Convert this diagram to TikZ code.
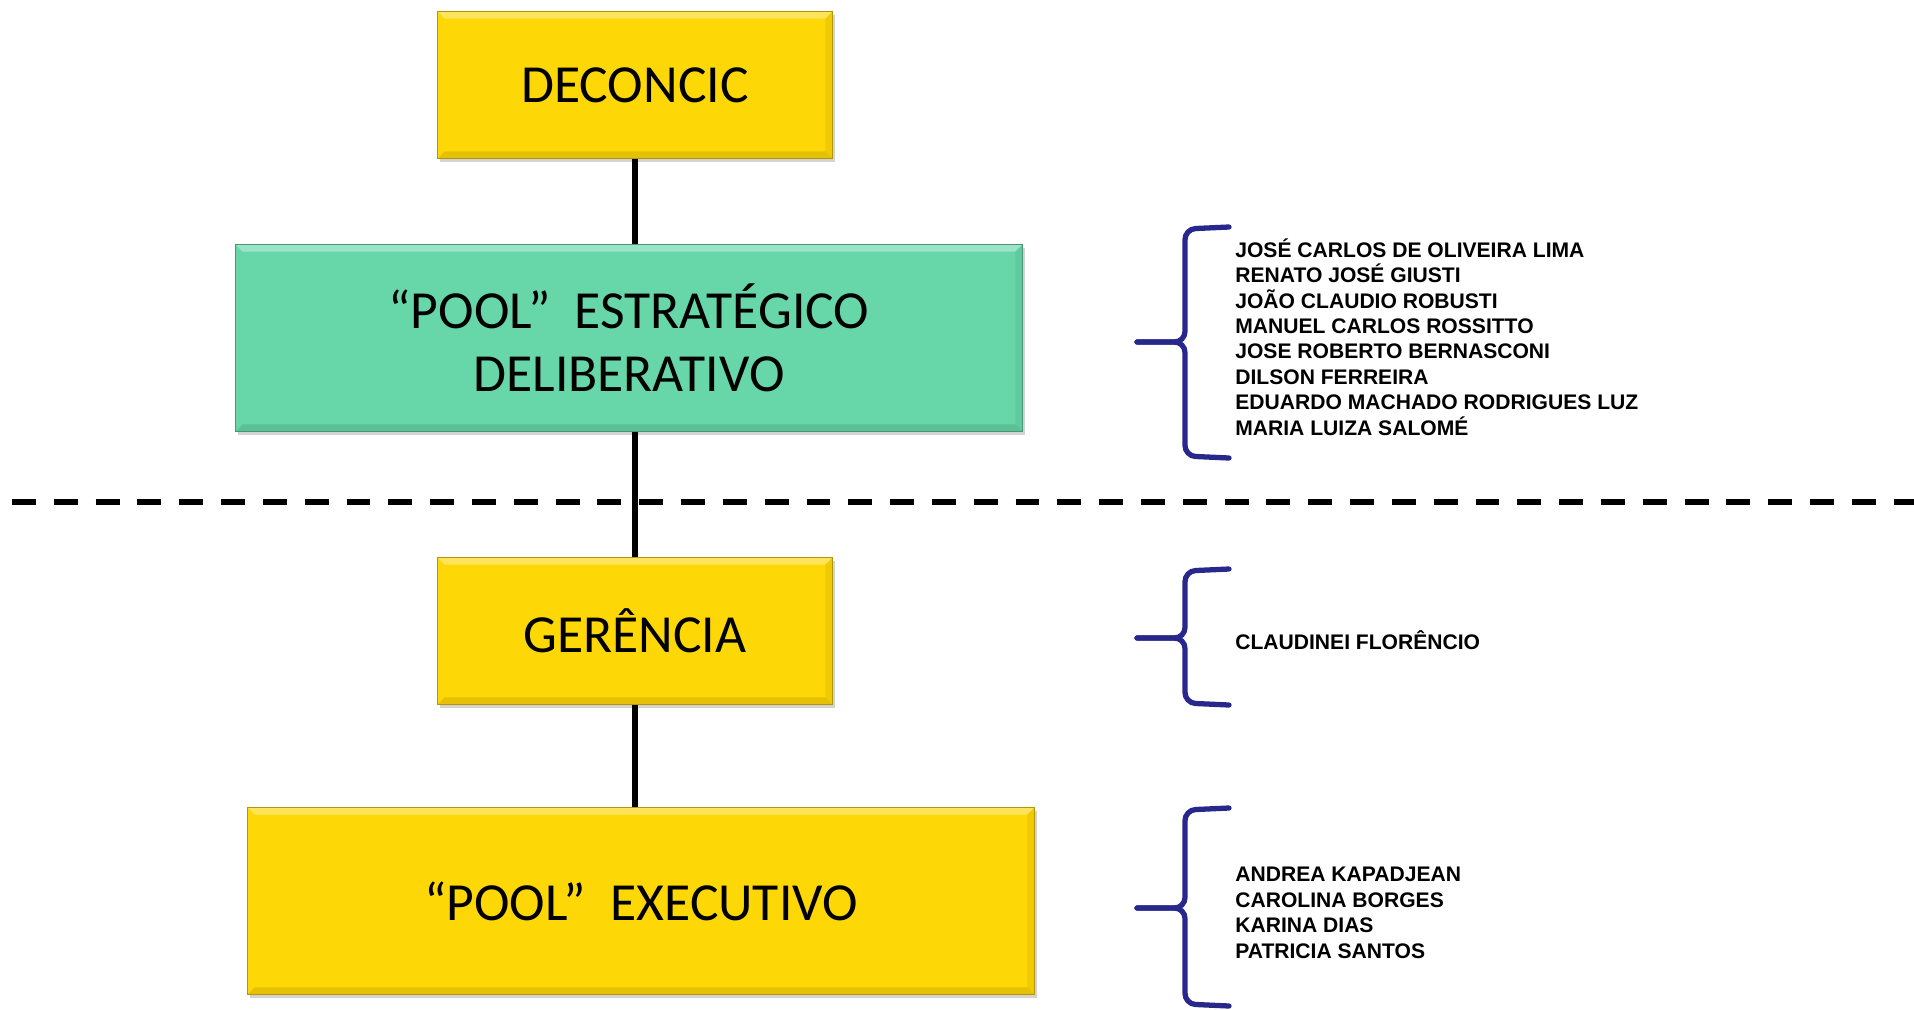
\documentclass[tikz,border=0pt]{standalone}
\usepackage{fontspec}
\setmainfont{Carlito}
\newfontfamily\namefont{Liberation Sans}
\usetikzlibrary{shadows}
\definecolor{boxyellow}{RGB}{254,215,6}
\definecolor{boxgreen}{RGB}{103,214,169}
\definecolor{bracecol}{RGB}{40,40,140}
\newcommand\bx{1185}

\begin{document}
\begin{tikzpicture}[x=0.02cm, y=-0.02cm,
  box/.style={rectangle, draw=#1!70!black, line width=0.8pt, fill=#1,
    minimum width=7.9cm, minimum height=2.94cm, align=center,
    font=\fontsize{30.5}{36}\selectfont,
    drop shadow={shadow xshift=1.2pt, shadow yshift=-2pt, opacity=0.35},
    path picture={
      \fill [white, opacity=0.35] (path picture bounding box.north west) -- (path picture bounding box.north east)
        -- ([xshift=-4pt, yshift=-4pt]path picture bounding box.north east) -- ([xshift=4pt, yshift=-4pt]path picture bounding box.north west) -- cycle;
      \fill [black, opacity=0.10] (path picture bounding box.south west) -- (path picture bounding box.south east)
        -- ([xshift=-4pt, yshift=4pt]path picture bounding box.south east) -- ([xshift=4pt, yshift=4pt]path picture bounding box.south west) -- cycle;
      \fill [black, opacity=0.06] (path picture bounding box.north east) -- (path picture bounding box.south east)
        -- ([xshift=-4pt, yshift=4pt]path picture bounding box.south east) -- ([xshift=-4pt, yshift=-4pt]path picture bounding box.north east) -- cycle;
    }},
  wide/.style={minimum width=15.74cm, minimum height=3.74cm},
  names/.style={anchor=west, align=left, inner sep=0pt,
    font=\namefont\bfseries\fontsize{12}{14.5}\selectfont},
  curly/.style={draw=bracecol, line width=3pt, rounded corners=6pt, line cap=round},
  link/.style={line width=3pt}]
\useasboundingbox (0,0) rectangle (1914,1009);

\node at (635, 85) [box=boxyellow] (deconcic) {DECONCIC};
\node at (629, 338) [box=boxgreen, wide] (poolest) {“POOL”\ \ ESTRATÉGICO\\DELIBERATIVO};
\node at (635, 631) [box=boxyellow] (gerencia) {GERÊNCIA};
\node at (641, 901) [box=boxyellow, wide] (poolexec) {“POOL”\ \ EXECUTIVO};

    %dashed separation line
    \draw [line width=3.4pt, dash pattern=on 13.6pt off 10.2pt] (12, 502) -- (1914, 502);

    %vertical links
    \draw [link] (deconcic.south) -- (deconcic.south |- poolest.north);
    \draw [link] (gerencia.north |- poolest.south) -- (gerencia.north);
    \draw [link] (gerencia.south) -- (gerencia.south |- poolexec.north);

    %braces with members
    \draw [curly] (1229, 227) -- (\bx, 229) -- (\bx, 342) -- (1137, 342);
    \draw [curly] (1137, 342) -- (\bx, 342) -- (\bx, 456) -- (1229, 458);
    \node at (1235, 337) [names] (members1) {JOSÉ CARLOS DE OLIVEIRA LIMA\\RENATO JOSÉ GIUSTI\\JOÃO CLAUDIO ROBUSTI\\MANUEL CARLOS ROSSITTO\\JOSE ROBERTO BERNASCONI\\DILSON FERREIRA\\EDUARDO MACHADO RODRIGUES LUZ\\MARIA LUIZA SALOMÉ};

    \draw [curly] (1229, 569) -- (\bx, 571) -- (\bx, 638) -- (1137, 638);
    \draw [curly] (1137, 638) -- (\bx, 638) -- (\bx, 703) -- (1229, 705);
    \node at (1235, 640) [names] (members2) {CLAUDINEI FLORÊNCIO};

    \draw [curly] (1229, 808) -- (\bx, 810) -- (\bx, 908) -- (1137, 908);
    \draw [curly] (1137, 908) -- (\bx, 908) -- (\bx, 1004) -- (1229, 1006);
    \node at (1235, 913) [names] (members3) {ANDREA KAPADJEAN\\CAROLINA BORGES\\KARINA DIAS\\PATRICIA SANTOS};
\end{tikzpicture}
\end{document}
